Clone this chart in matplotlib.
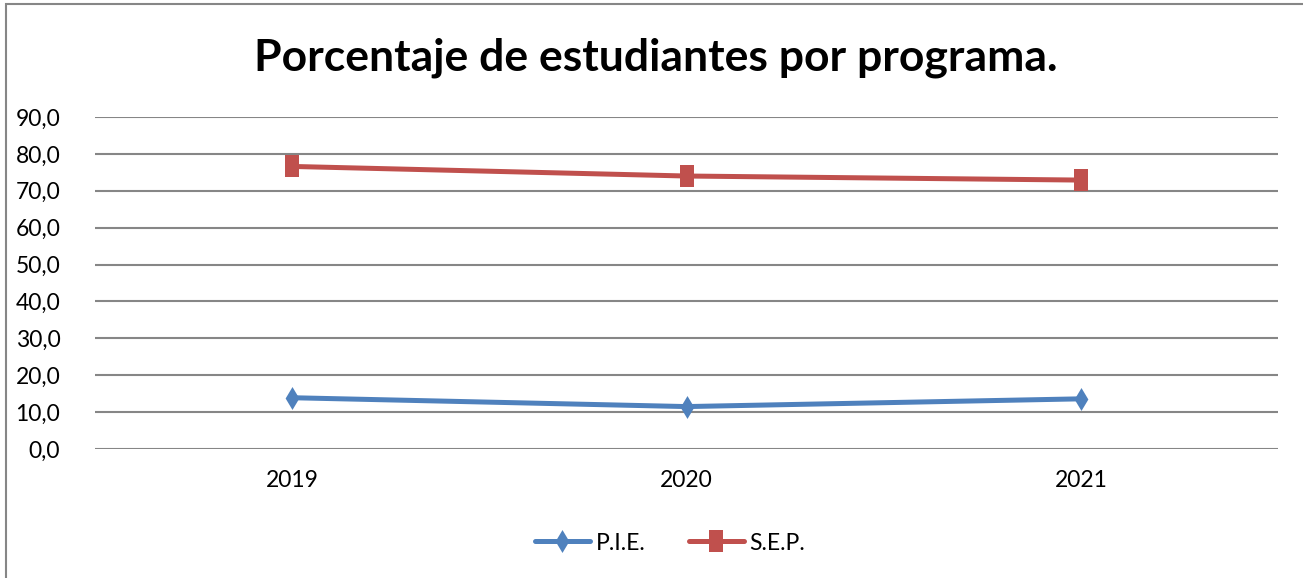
import matplotlib
matplotlib.use("Agg")
import matplotlib.pyplot as plt
from matplotlib.patches import Rectangle
from matplotlib.ticker import FuncFormatter

years = ["2019", "2020", "2021"]
pie = [13.9, 11.5, 13.6]
sep = [76.6, 74.0, 72.9]
yticks = [0, 10, 20, 30, 40, 50, 60, 70, 80, 90]

plt.rcParams['font.family'] = ['Lato', 'DejaVu Sans']

W, H = 1303, 578
fig = plt.figure(figsize=(W/100, H/100), dpi=100)
ax = fig.add_axes([95/W, 1-449/H, (1278-95)/W, (449-117)/H])

sq = [(-0.62, -1), (0.62, -1), (0.62, 1), (-0.62, 1), (-0.62, -1)]
dm = [(0, -1), (0.6, 0), (0, 1), (-0.6, 0), (0, -1)]

x = list(range(len(years)))
ax.plot(x, pie, color='#4F81BD', lw=3.6, marker=dm, markersize=16.5,
        markeredgewidth=0, solid_capstyle='round', label='P.I.E.', zorder=3)
ax.plot(x, sep, color='#C0504D', lw=3.6, marker=sq, markersize=15.5,
        markeredgewidth=0, solid_capstyle='round', label='S.E.P.', zorder=3)

ax.set_xlim(-0.5, 2.5)
ax.set_ylim(0, 90)
ax.set_yticks(yticks)
ax.yaxis.set_major_formatter(FuncFormatter(lambda v, p: f"{v:.1f}".replace('.', ',')))
ax.set_xticks(x)
ax.set_xticklabels(years)
ax.grid(axis='y', color='#868686', lw=1.5)
ax.set_axisbelow(True)
for s in ax.spines.values():
    s.set_visible(False)
ax.tick_params(axis='both', length=0, labelsize=16.5, labelcolor='black')
ax.tick_params(axis='y', pad=25)
ax.tick_params(axis='x', pad=15)

fig.text(656/W, 1-58/H, "Porcentaje de estudiantes por programa.", ha='center', va='center',
         fontsize=32, fontweight='bold')

leg = fig.legend(loc='center', bbox_to_anchor=(670/W, 1-543/H), ncol=2, frameon=False,
                 fontsize=16.5, handlelength=2.4, columnspacing=1.9, handletextpad=0.25,
                 borderaxespad=0)

fig.add_artist(Rectangle((6/W, -0.1), 1.2, 1.1 - 4/H, transform=fig.transFigure,
                         fill=False, edgecolor='#868686', lw=1.5))

fig.savefig("out.png", dpi=100)
